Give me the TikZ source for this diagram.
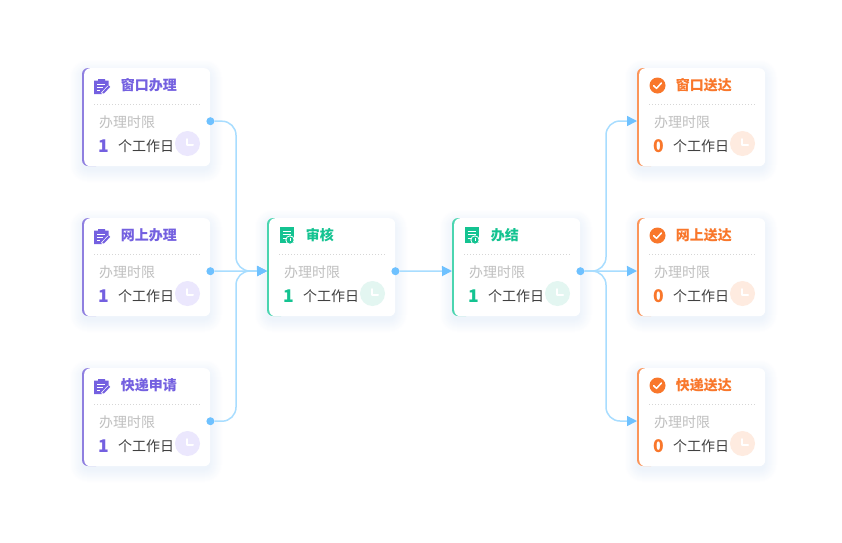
\documentclass[tikz,border=0pt]{standalone}
\usepackage{fontspec}
\usetikzlibrary{arrows.meta}
\setmainfont{Noto Sans CJK SC}
\definecolor{purpleT}{HTML}{7460E0}
\definecolor{purpleB}{HTML}{8F7FE0}
\definecolor{purpleC}{HTML}{EBE7FD}
\definecolor{greenT}{HTML}{14C391}
\definecolor{greenB}{HTML}{4BD5B0}
\definecolor{greenC}{HTML}{E3F6F1}
\definecolor{orangeT}{HTML}{F9772B}
\definecolor{orangeB}{HTML}{FB955A}
\definecolor{orangeC}{HTML}{FEEBE0}
\definecolor{flowline}{HTML}{A8DDFF}
\definecolor{flowtip}{HTML}{6EC1FF}
\definecolor{shadowc}{HTML}{BFD5F0}
\tikzset{
  flow/.style={draw=flowline,line width=1.5pt,rounded corners=14pt,-{Triangle[length=10pt,width=10pt,color=flowtip]}},
  port/.style={circle,fill=flowtip,inner sep=0pt,minimum size=8pt},
  titletext/.style={anchor=west,inner sep=0pt,font=\bfseries\fontsize{14}{16}\selectfont},
  labeltext/.style={anchor=west,inner sep=0pt,text=black!25,font=\fontsize{14}{16}\selectfont},
  unittext/.style={anchor=west,inner sep=0pt,text=black!75,font=\fontsize{14}{16}\selectfont},
  numtext/.style={inner sep=0pt,font=\bfseries\fontsize{17.5}{18}\selectfont},
  sep/.style={draw=black!16,line width=.8pt,dash pattern=on 1pt off 2pt},
}
% local icons, origin at card's top-left
\newcommand{\iconclip}[1]{%
  \fill[#1] (12,12.5) -- (16,12.5) -- (16,11) -- (23,11) -- (23,12.5) -- (26.5,12.5) -- (26.5,18) -- (20,25) -- (20,26) -- (12,26) -- cycle;
  \draw[white,line width=1pt] (15,16.5) -- (23,16.5) (15,19.5) -- (20.5,19.5) (15,22.5) -- (18,22.5);
  \draw[white,line width=1pt] (19.3,25.2) -- (26,18);
  \draw[#1,line width=2pt] (21,25) -- (27.5,18.2);
}
\newcommand{\icondoc}[1]{%
  \fill[#1] (13,9) rectangle (26.5,25);
  \draw[white,line width=1pt] (15.5,13) -- (24,13) (15.5,16.5) -- (24,16.5) (15.5,20) -- (20,20);
  \fill[white] (23,22) circle (4.6);
  \fill[#1] (23,22) circle (3.6);
  \draw[white,line width=.7pt] (23,20.4) -- (23,22.3) -- (24.4,22.3);
}
\newcommand{\iconcheck}[1]{%
  \fill[#1] (20.5,17.5) circle (8);
  \draw[white,line width=1.5pt,line cap=round,line join=round] (16.7,17.7) -- (19.5,20.4) -- (24.4,15);
}
% name, x, y, title, number, colour prefix, icon command
\newcommand{\flowcard}[7]{%
\begin{scope}[shift={(#2,#3)}]
  \foreach \g/\k in {12/2,11/4,10/6,9/8,8/10,7/12,6/14,5/16,4/18,3/20,2/22,1/24,0/26}{
    \pgfmathsetmacro{\shadowr}{6+\g}
    \fill[shadowc!\k!white,rounded corners=\shadowr pt] (-\g,-\g+4) rectangle (128+\g,98+\g+4);
  }
  \fill[#6B,rounded corners=6pt] (0,0) rectangle (20,98);
  \node[anchor=north west,fill=white,rounded corners=6pt,inner sep=0pt,minimum width=126pt,minimum height=98pt] (#1) at (2,0) {};
  \coordinate (#1in) at (0,53);
  #7{#6T}
  \node[titletext,text=#6T] (#1title) at (38.6,17.5) {#4};
  \draw[sep] (12,36.5) -- (118,36.5);
  \node[labeltext] (#1lab) at (17,54) {办理时限};
  \node[numtext,text=#6T] (#1num) at (22,78.5) {#5};
  \node[unittext] (#1unit) at (36,78) {个工作日};
  \fill[#6C] (105.5,75.5) circle (12.5);
  \draw[white,line width=2pt,line cap=round,line join=round] (104.8,71) -- (104.8,76.6) -- (111,76.6);
\end{scope}}
\begin{document}
\begin{tikzpicture}[x=1pt,y=-1pt]
\useasboundingbox (0,0) rectangle (842,542);
\fill[white] (0,0) rectangle (842,542);
\flowcard{a}{82}{68}{窗口办理}{1}{purple}{\iconclip}
\flowcard{b}{82}{218}{网上办理}{1}{purple}{\iconclip}
\flowcard{c}{82}{368}{快递申请}{1}{purple}{\iconclip}
\flowcard{d}{267}{218}{审核}{1}{green}{\icondoc}
\flowcard{e}{452}{218}{办结}{1}{green}{\icondoc}
\flowcard{f}{637}{68}{窗口送达}{0}{orange}{\iconcheck}
\flowcard{g}{637}{218}{网上送达}{0}{orange}{\iconcheck}
\flowcard{h}{637}{368}{快递送达}{0}{orange}{\iconcheck}
\foreach \p in {a,b,c,d,e}{\node[port] (\p out) at ([yshift=-4pt]\p.east) {};}
\coordinate (busL) at (236,271);
\coordinate (busR) at (606,271);
\draw[flow] (aout) -| (busL) -- (din);
\draw[flow] (bout) -- (din);
\draw[flow] (cout) -| (busL) -- (din);
\draw[flow] (dout) -- (ein);
\draw[flow] (eout) -- (busR) |- (fin);
\draw[flow] (eout) -- (gin);
\draw[flow] (eout) -- (busR) |- (hin);
\end{tikzpicture}
\end{document}
